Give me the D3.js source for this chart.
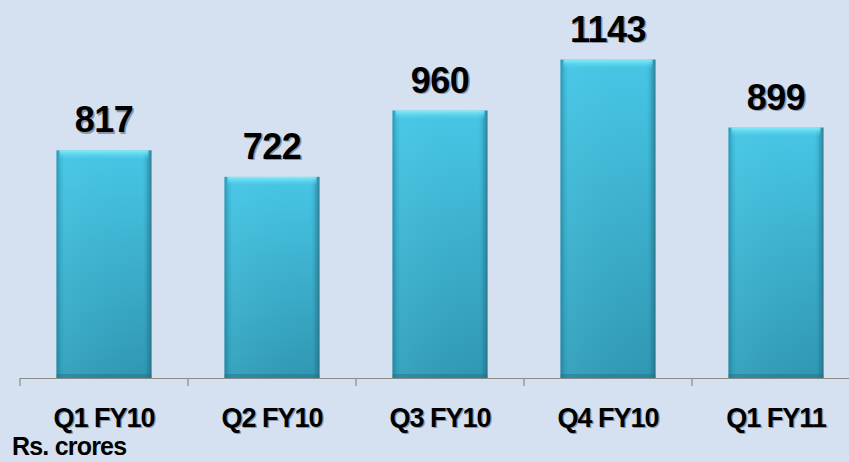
<!DOCTYPE html>
<html>
<head>
<meta charset="utf-8">
<script src="https://cdn.jsdelivr.net/npm/d3@7"></script>
<style>
  body { margin: 0; background: #d5e1f1; }
  svg { display: block; }
  text { font-family: "Liberation Sans", Arial, sans-serif; font-weight: bold; fill: #000; }
</style>
</head>
<body>
<svg width="849" height="462"></svg>
<script>
var categories = ["Q1 FY10", "Q2 FY10", "Q3 FY10", "Q4 FY10", "Q1 FY11"];
var values = [817, 722, 960, 1143, 899];
var unitLabel = "Rs. crores";

var svg = d3.select("svg"),
    width = +svg.attr("width"),
    height = +svg.attr("height");

svg.append("rect").attr("width", width).attr("height", height).attr("fill", "#d5e1f1");

var baseY = 378;
var x = d3.scaleBand().domain(categories).range([20, 860]).paddingInner(0.435).paddingOuter(0.2175);
var y = d3.scaleLinear().domain([0, 1357]).range([baseY, 0]);

var defs = svg.append("defs");
var vg = defs.append("linearGradient").attr("id", "vgrad").attr("x1", 0).attr("y1", 0).attr("x2", 0).attr("y2", 1);
vg.append("stop").attr("offset", "0%").attr("stop-color", "#47c6e6");
vg.append("stop").attr("offset", "100%").attr("stop-color", "#3097b2");
var hg = defs.append("linearGradient").attr("id", "hgrad").attr("x1", 0).attr("y1", 0).attr("x2", 1).attr("y2", 0);
hg.append("stop").attr("offset", "0%").attr("stop-color", "#1c6f86").attr("stop-opacity", 0.6);
hg.append("stop").attr("offset", "4%").attr("stop-color", "#2aa0bd").attr("stop-opacity", 0.35);
hg.append("stop").attr("offset", "9%").attr("stop-color", "#5fd3ec").attr("stop-opacity", 0.2);
hg.append("stop").attr("offset", "90%").attr("stop-color", "#3cb5d2").attr("stop-opacity", 0);
hg.append("stop").attr("offset", "96%").attr("stop-color", "#1d7a92").attr("stop-opacity", 0.4);
hg.append("stop").attr("offset", "100%").attr("stop-color", "#2a5f70").attr("stop-opacity", 0.7);
var tg = defs.append("linearGradient").attr("id", "tgrad").attr("x1", 0).attr("y1", 0).attr("x2", 0).attr("y2", 1);
tg.append("stop").attr("offset", "0%").attr("stop-color", "#8ff0fb").attr("stop-opacity", 0.9);
tg.append("stop").attr("offset", "100%").attr("stop-color", "#55d4ee").attr("stop-opacity", 0);

var bars = svg.append("g").attr("class", "bars")
  .selectAll("g")
  .data(values)
  .enter().append("g");

bars.append("rect")
  .attr("x", function(d, i) { return x(categories[i]); })
  .attr("y", function(d) { return y(d); })
  .attr("width", x.bandwidth())
  .attr("height", function(d) { return baseY - y(d); })
  .attr("fill", "url(#vgrad)");
bars.append("rect")
  .attr("x", function(d, i) { return x(categories[i]); })
  .attr("y", function(d) { return y(d); })
  .attr("width", x.bandwidth())
  .attr("height", function(d) { return baseY - y(d); })
  .attr("fill", "url(#hgrad)");
bars.append("rect")
  .attr("x", function(d, i) { return x(categories[i]) + 3; })
  .attr("y", function(d) { return y(d); })
  .attr("width", x.bandwidth() - 6)
  .attr("height", 9)
  .attr("fill", "url(#tgrad)");
bars.append("rect")
  .attr("x", function(d, i) { return x(categories[i]); })
  .attr("y", baseY - 4)
  .attr("width", x.bandwidth())
  .attr("height", 4)
  .attr("fill", "#1f6f84")
  .attr("opacity", 0.45);

// axis
var axis = svg.append("g").attr("transform", "translate(0," + baseY + ")")
  .call(d3.axisBottom(x).tickSize(0).tickFormat(""));
axis.select(".domain").attr("stroke", "#8c8c8c").attr("stroke-width", 1.2).attr("d", "M20,0.5H849");
var edges = [20].concat(categories.map(function(c) { return x(c) + x.bandwidth() + x.step() * 0.435 / 2; }));
axis.selectAll("line.edge").data(edges).enter().append("line")
  .attr("class", "edge")
  .attr("x1", function(d) { return d; }).attr("x2", function(d) { return d; })
  .attr("y1", 0).attr("y2", 8)
  .attr("stroke", "#8c8c8c").attr("stroke-width", 1.2);

// value labels
var vl = svg.append("g").attr("class", "labels");
vl.selectAll("text.shadow").data(values).enter().append("text")
  .attr("class", "shadow")
  .attr("x", function(d, i) { return x(categories[i]) + x.bandwidth() / 2 + 1.5; })
  .attr("y", function(d) { return y(d) - 16.5; })
  .attr("text-anchor", "middle")
  .style("font-size", "36px").style("letter-spacing", "-0.5px")
  .style("fill", "#8a97a8")
  .text(function(d) { return d; });
vl.selectAll("text.value").data(values).enter().append("text")
  .attr("class", "value")
  .attr("x", function(d, i) { return x(categories[i]) + x.bandwidth() / 2; })
  .attr("y", function(d) { return y(d) - 18; })
  .attr("text-anchor", "middle")
  .style("font-size", "36px").style("letter-spacing", "-0.5px")
  .text(function(d) { return d; });

// category labels
var cl = svg.append("g").attr("class", "cats");
cl.selectAll("text.shadow").data(categories).enter().append("text")
  .attr("class", "shadow")
  .attr("x", function(d) { return x(d) + x.bandwidth() / 2 + 1.2; })
  .attr("y", 428.2)
  .attr("text-anchor", "middle")
  .style("font-size", "27px").style("letter-spacing", "-1px")
  .style("fill", "#8a97a8")
  .text(function(d) { return d; });
cl.selectAll("text.cat").data(categories).enter().append("text")
  .attr("class", "cat")
  .attr("x", function(d) { return x(d) + x.bandwidth() / 2; })
  .attr("y", 427)
  .attr("text-anchor", "middle")
  .style("font-size", "27px").style("letter-spacing", "-1px")
  .text(function(d) { return d; });

svg.append("text")
  .attr("x", 12).attr("y", 455)
  .style("font-size", "25px").style("letter-spacing", "-0.8px")
  .text(unitLabel);
</script>
</body>
</html>
